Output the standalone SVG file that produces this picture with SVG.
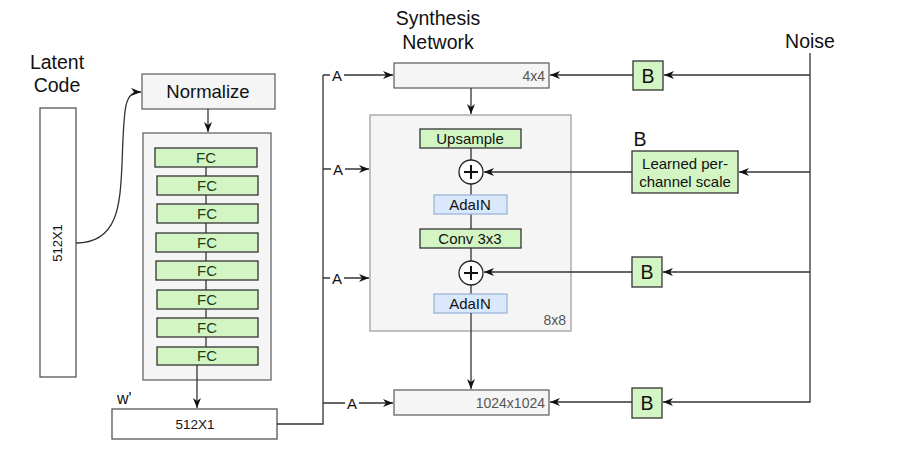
<svg xmlns="http://www.w3.org/2000/svg" width="899" height="460" viewBox="0 0 899 460">
<style>
text{font-family:"Liberation Sans",Arial,sans-serif;fill:#111}
.t{font-size:19.5px;text-anchor:middle}
.box{fill:#f5f5f5;stroke:#666;stroke-width:1.3}
.plain{fill:#fff;stroke:#555;stroke-width:1.3}
.green{fill:#d3f5c4;stroke:#333;stroke-width:1.3}
.blue{fill:#dae8fc;stroke:#9ab4d8;stroke-width:1.3}
.fc{font-size:15px;text-anchor:middle;fill:#1e3d14}
.lbl{font-size:15px;text-anchor:middle}
.sm{font-size:14px;text-anchor:end;fill:#555}
.ln{fill:none;stroke:#333;stroke-width:1.3}
.wbg{fill:#fff;stroke:none}
</style>
<defs>
<marker id="arr" viewBox="0 0 10 10" refX="10" refY="5" markerWidth="10" markerHeight="10" markerUnits="userSpaceOnUse" orient="auto">
<path d="M0,1 L10,5 L0,9 L3,5 z" fill="#111"/>
</marker>
</defs>

<g id="latent-label"><text class="t" x="57" y="69">Latent</text><text class="t" x="57" y="92">Code</text></g>
<g id="latent-code"><rect class="plain" x="40" y="108" width="36" height="269"/><text class="lbl" transform="translate(62,243) rotate(-90)" style="font-size:13px">512X1</text></g>

<g id="normalize"><rect class="box" x="142" y="74" width="133" height="35"/><text class="t" x="208" y="98" style="font-size:18.5px">Normalize</text></g>

<g id="mapping">
<rect class="box" x="143" y="133" width="128" height="247"/>
<path class="ln" d="M206,167 V348"/>
<g id="fc1"><rect class="green" x="155" y="148" width="102" height="19"/><text class="fc" x="206" y="163">FC</text></g>
<g id="fc2"><rect class="green" x="157" y="176" width="101" height="19"/><text class="fc" x="207" y="191">FC</text></g>
<g id="fc3"><rect class="green" x="157" y="204" width="101" height="19"/><text class="fc" x="207" y="219">FC</text></g>
<g id="fc4"><rect class="green" x="156" y="233" width="102" height="19"/><text class="fc" x="207" y="248">FC</text></g>
<g id="fc5"><rect class="green" x="156" y="261" width="102" height="19"/><text class="fc" x="207" y="276">FC</text></g>
<g id="fc6"><rect class="green" x="157" y="290" width="101" height="19"/><text class="fc" x="207" y="305">FC</text></g>
<g id="fc7"><rect class="green" x="157" y="318" width="101" height="19"/><text class="fc" x="207" y="333">FC</text></g>
<g id="fc8"><rect class="green" x="157" y="347" width="101" height="18"/><text class="fc" x="207" y="361">FC</text></g>
</g>

<g id="w-label"><text x="117" y="404" style="font-size:16px">w'</text></g>
<g id="w-vector"><rect class="plain" x="112" y="409" width="165" height="30"/><text class="lbl" x="195" y="429" style="font-size:13.5px">512X1</text></g>

<g id="synth-label"><text class="t" x="438" y="25">Synthesis</text><text class="t" x="438" y="49">Network</text></g>

<g id="block4x4"><rect class="box" x="394" y="63" width="155" height="25"/><text class="sm" x="545" y="80.5">4x4</text></g>

<g id="block8x8">
<rect x="370" y="115" width="201" height="216" fill="#f5f5f5" stroke="#a0a0a0" stroke-width="1.3"/>
<text class="sm" x="566" y="325">8x8</text>
<path class="ln" d="M471,148 V160 M471,184 V195 M471,214 V229 M471,248 V261 M471,285 V294"/>
<g id="upsample"><rect class="green" x="420" y="129" width="101" height="19"/><text class="lbl" x="470" y="144">Upsample</text></g>
<g id="plus1"><circle cx="471" cy="172" r="12" fill="#fff" stroke="#222" stroke-width="1.3"/><path d="M464,172 H478 M471,165 V179" stroke="#111" stroke-width="2"/></g>
<g id="adain1"><rect class="blue" x="434" y="195" width="73" height="19"/><text class="lbl" x="470" y="210">AdaIN</text></g>
<g id="conv"><rect class="green" x="420" y="229" width="101" height="19"/><text class="lbl" x="470" y="244">Conv 3x3</text></g>
<g id="plus2"><circle cx="471" cy="273" r="12" fill="#fff" stroke="#222" stroke-width="1.3"/><path d="M464,273 H478 M471,266 V280" stroke="#111" stroke-width="2"/></g>
<g id="adain2"><rect class="blue" x="434" y="294" width="73" height="19"/><text class="lbl" x="470" y="309">AdaIN</text></g>
</g>

<g id="block1024"><rect class="box" x="394" y="390" width="155" height="25"/><text class="sm" x="545" y="407.5">1024x1024</text></g>

<g id="noise-label"><text class="t" x="810" y="48">Noise</text></g>

<g id="b1"><rect class="green" x="633" y="61" width="30" height="29"/><text class="t" x="648" y="83">B</text></g>
<g id="b-scale-label"><text class="t" x="640" y="146">B</text></g>
<g id="b2"><rect class="green" x="632" y="151" width="106" height="42"/><text class="lbl" x="685" y="169">Learned per-</text><text class="lbl" x="685" y="187">channel scale</text></g>
<g id="b3"><rect class="green" x="632" y="257" width="30" height="30"/><text class="t" x="647" y="279">B</text></g>
<g id="b4"><rect class="green" x="632" y="388" width="30" height="30"/><text class="t" x="647" y="410">B</text></g>

<g id="connectors">
<path class="ln" d="M76,243 C118,243 120,205 122,165 C124,105 124,92 141,92" marker-end="url(#arr)"/>
<path class="ln" d="M208,109 V132" marker-end="url(#arr)"/>
<path class="ln" d="M197,365 V408" marker-end="url(#arr)"/>
<path class="ln" d="M277,424 H323 V75"/>
<path class="ln" d="M323,75 H393" marker-end="url(#arr)"/>
<path class="ln" d="M323,169 H369" marker-end="url(#arr)"/>
<path class="ln" d="M323,278 H369" marker-end="url(#arr)"/>
<path class="ln" d="M323,403 H393" marker-end="url(#arr)"/>
<rect class="wbg" x="330" y="67" width="14" height="15"/><text class="lbl" x="337" y="81">A</text>
<rect class="wbg" x="331" y="161" width="14" height="15"/><text class="lbl" x="338" y="175">A</text>
<rect class="wbg" x="330" y="270" width="14" height="15"/><text class="lbl" x="337" y="284">A</text>
<rect class="wbg" x="345" y="395" width="14" height="15"/><text class="lbl" x="352" y="409">A</text>
<path class="ln" d="M471,88 V114" marker-end="url(#arr)"/>
<path class="ln" d="M471,313 V389" marker-end="url(#arr)"/>
<path class="ln" d="M810,53 V402 H663" marker-end="url(#arr)"/>
<path class="ln" d="M810,75 H664" marker-end="url(#arr)"/>
<path class="ln" d="M810,172 H739" marker-end="url(#arr)"/>
<path class="ln" d="M810,272 H663" marker-end="url(#arr)"/>
<path class="ln" d="M633,75 H550" marker-end="url(#arr)"/>
<path class="ln" d="M632,172 H484" marker-end="url(#arr)"/>
<path class="ln" d="M632,272 H484" marker-end="url(#arr)"/>
<path class="ln" d="M632,402 H550" marker-end="url(#arr)"/>
</g>
</svg>
